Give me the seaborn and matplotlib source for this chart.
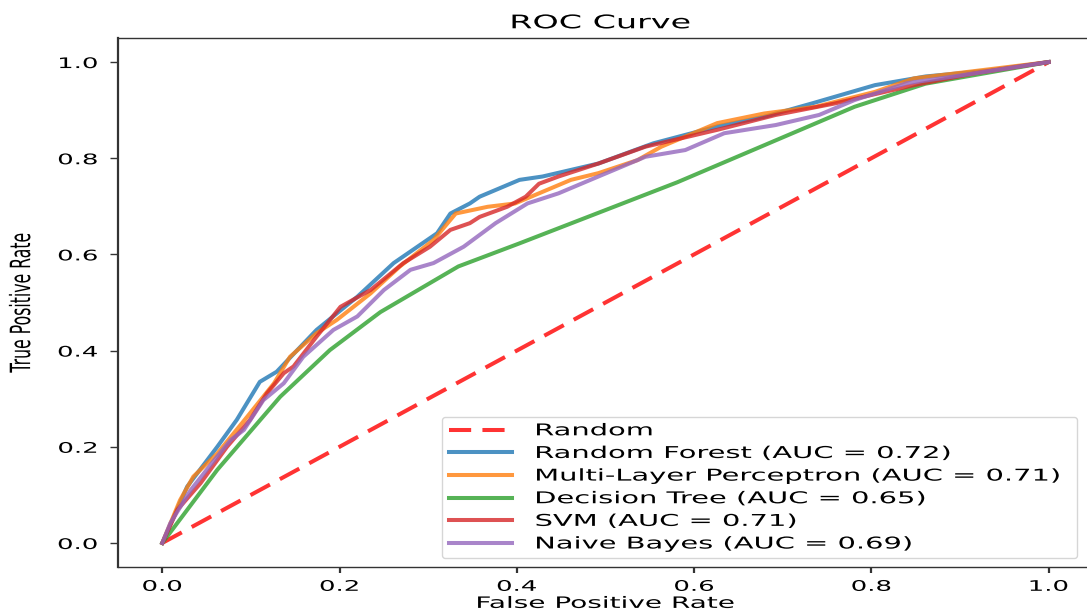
import matplotlib
matplotlib.use("Agg")
import matplotlib.pyplot as plt
from matplotlib.patheffects import AbstractPathEffect
from matplotlib.transforms import Affine2D
import numpy as np
import pandas as pd
import seaborn as sns

# ROC curve points per model (false positive rate, true positive rate)
rf_fpr = [0, .028, .062, .084, .110, .129, .174, .220, .261, .310, .325, .347, .358, .403, .429, .492,
          .554, .626, .679, .733, .804, .861, .930, 1.0]
rf_tpr = [0, .117, .200, .256, .335, .356, .443, .512, .582, .644, .685, .706, .720, .755, .762, .789,
          .831, .866, .886, .914, .952, .970, .982, 1.0]

mlp_fpr = [0, .020, .035, .062, .096, .126, .144, .174, .197, .235, .268, .306, .331, .367, .398, .425,
           .461, .492, .536, .563, .626, .679, .737, .804, .848, .893, 1.0]
mlp_tpr = [0, .089, .138, .186, .263, .332, .387, .436, .464, .519, .575, .630, .685, .699, .706, .727,
           .755, .769, .796, .824, .873, .893, .907, .938, .966, .976, 1.0]

dt_fpr = [0, .062, .133, .189, .246, .334, .403, .581, .781, .861, 1.0]
dt_tpr = [0, .152, .304, .401, .480, .575, .623, .750, .907, .955, 1.0]

svm_fpr = [0, .017, .043, .073, .099, .118, .137, .148, .174, .201, .235, .272, .302, .325, .347, .358,
           .389, .410, .425, .447, .492, .545, .626, .692, .759, .848, .915, 1.0]
svm_tpr = [0, .069, .124, .200, .256, .311, .353, .367, .429, .491, .526, .582, .616, .651, .665, .678,
           .699, .720, .747, .762, .789, .824, .859, .890, .914, .952, .976, 1.0]

nb_fpr = [0, .009, .032, .062, .077, .092, .114, .137, .159, .193, .220, .250, .280, .306, .340, .376,
          .412, .447, .492, .545, .590, .634, .692, .741, .781, .840, .893, 1.0]
nb_tpr = [0, .041, .110, .180, .214, .235, .297, .332, .387, .443, .471, .526, .568, .582, .616, .665,
          .706, .727, .762, .803, .817, .852, .869, .890, .921, .956, .970, 1.0]

model_names = ["Random Forest", "Multi-Layer Perceptron", "Decision Tree", "SVM", "Naive Bayes"]
model_auc = [0.72, 0.71, 0.65, 0.71, 0.69]
model_fpr = [rf_fpr, mlp_fpr, dt_fpr, svm_fpr, nb_fpr]
model_tpr = [rf_tpr, mlp_tpr, dt_tpr, svm_tpr, nb_tpr]
model_colors = ["#1f77b4", "#ff7f0e", "#2ca02c", "#d62728", "#9467bd"]

chance_x = [0, 1]
chance_y = [0, 1]

tick_values = [0.0, 0.2, 0.4, 0.6, 0.8, 1.0]
tick_labels = ["0.0", "0.2", "0.4", "0.6", "0.8", "1.0"]

WIDE = 1.78  # horizontal widening of the lettering


class Widen(AbstractPathEffect):
    """Draw text glyphs widened horizontally about a fixed edge or the centre."""

    def __init__(self, sx, anchor="center"):
        super().__init__()
        self.sx = sx
        self.anchor = anchor

    def draw_path(self, renderer, gc, tpath, affine, rgbFace=None):
        ext = tpath.get_extents(affine)
        if self.anchor == "left":
            cx = ext.x0
        elif self.anchor == "right":
            cx = ext.x1
        else:
            cx = 0.5 * (ext.x0 + ext.x1)
        tr = Affine2D(affine.get_matrix()).translate(-cx, 0).scale(self.sx, 1).translate(cx, 0)
        renderer.draw_path(gc, tpath, tr, rgbFace)


rows = []
for name, fp, tp in zip(model_names, model_fpr, model_tpr):
    for a, b in zip(fp, tp):
        rows.append({"model": name, "fpr": a, "tpr": b})
df = pd.DataFrame(rows)

fig = plt.figure(figsize=(10.87, 6.15), dpi=100)
ax = fig.add_axes([118 / 1087, 48 / 615, 975 / 1087, 529 / 615])

LW = 2.9
sns.lineplot(x=chance_x, y=chance_y, ax=ax, color="red", alpha=0.8, lw=LW,
             linestyle=(0, (5.5, 2.8)), label="Random")
for name, auc, col in zip(model_names, model_auc, model_colors):
    sub = df[df["model"] == name]
    sns.lineplot(data=sub, x="fpr", y="tpr", ax=ax, color=col, alpha=0.8, lw=LW,
                 estimator=None, sort=False, label=f"{name} (AUC = {auc:.2f})")

ax.set_xlim(-0.05, 1.05)
ax.set_ylim(-0.05, 1.05)
ax.set_xticks(tick_values)
ax.set_xticklabels(tick_labels)
ax.set_yticks(tick_values)
ax.set_yticklabels(tick_labels)

ax.tick_params(axis="y", length=6, width=1.0, pad=8.5, labelsize=10.5, color="#333333")
ax.tick_params(axis="x", length=4.5, width=1.6, pad=4, labelsize=10.5, color="#333333")
for side, lw in [("left", 1.6), ("right", 1.6), ("top", 1.0), ("bottom", 1.0)]:
    ax.spines[side].set_linewidth(lw)
    ax.spines[side].set_color("#333333")

ax.set_xlabel("False Positive Rate", fontsize=11.3, labelpad=1.5)
ax.set_ylabel("True Positive Rate", fontsize=11.3, labelpad=33)
ax.set_title("ROC Curve", fontsize=13.5, pad=7, x=(600.5 - 118) / 975)

leg = ax.legend(loc="lower left",
                bbox_to_anchor=(442 / 1087, 1 - 558 / 615, (1077 - 442) / 1087, 0.3),
                bbox_transform=fig.transFigure, mode="expand", borderaxespad=0,
                fontsize=11.7, handlelength=3.9, handletextpad=1.45,
                borderpad=0.4, labelspacing=0.47)

for t in ax.get_xticklabels():
    t.set_path_effects([Widen(WIDE, "center")])
for t in ax.get_yticklabels():
    t.set_path_effects([Widen(WIDE, "right")])
ax.xaxis.label.set_path_effects([Widen(WIDE, "center")])
ax.yaxis.label.set_path_effects([Widen(WIDE, "center")])
ax.title.set_path_effects([Widen(WIDE, "center")])
for t in leg.get_texts():
    t.set_path_effects([Widen(WIDE, "left")])

fig.savefig("out.png", dpi=100)
